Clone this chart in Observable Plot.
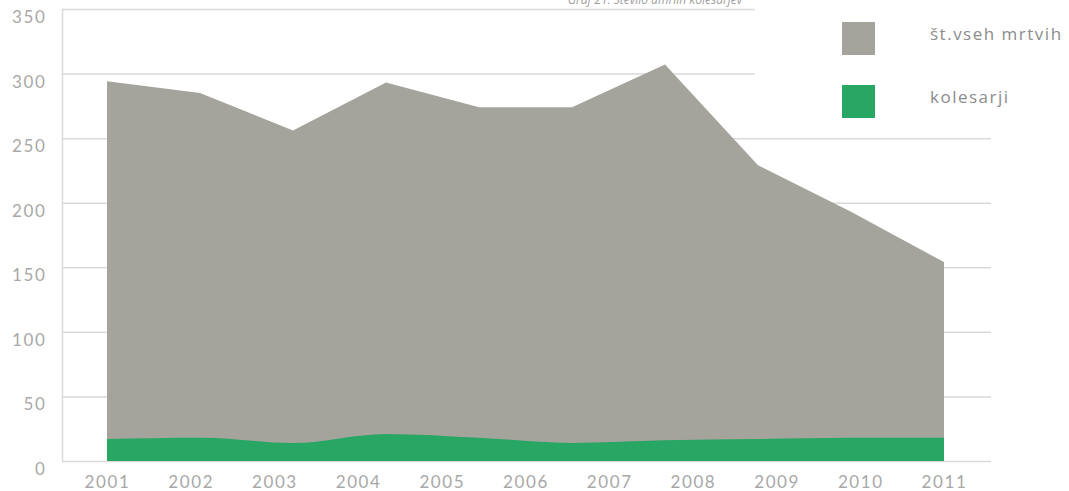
<!DOCTYPE html>
<html>
<head>
<meta charset="utf-8">
<script src="https://cdn.jsdelivr.net/npm/d3@7"></script>
<script src="https://cdn.jsdelivr.net/npm/@observablehq/plot@0.6"></script>
<style>
  html, body { margin: 0; padding: 0; background: #fff; }
  #wrap { position: relative; width: 1069px; height: 491px; overflow: hidden; }
  #title { position: absolute; top: -9px; left: 0; width: 1310px; text-align: center;
           font: italic 12px "Open Sans", sans-serif; color: #a0a0a0; }
  #legend { position: absolute; left: 755px; top: 0; width: 314px; height: 126px; background: #fff; }
  .item { position: absolute; left: 87px; width: 227px; height: 33px; }
  .sw { position: absolute; left: 0; top: 0; width: 33px; height: 33px; }
  .lab { position: absolute; left: 88px; top: 0px; font: 17px "Open Sans", sans-serif; color: #8c8c8c;
         letter-spacing: 1.5px; white-space: nowrap; }
  svg text { letter-spacing: 1.6px; }
</style>
</head>
<body>
<div id="wrap">
  <div id="chart"></div>
  <div id="title">Graf 21: Število umrlih kolesarjev</div>
  <div id="legend"></div>
</div>
<script>
const years = [2001, 2002, 2003, 2004, 2005, 2006, 2007, 2008, 2009, 2010, 2011];
const yTicks = [0, 50, 100, 150, 200, 250, 300, 350];
const total = [294, 285, 256, 293, 274, 274, 307, 229, 193, 154];
const cyclists = [17, 18, 14, 21, 18, 14, 16, 17, 18, 18];
const seriesNames = ["št.vseh mrtvih", "kolesarji"];
const colors = ["#a4a49c", "#27a664"];

// evenly spread the drawn points across the labelled span
const pos = d3.scaleLinear().domain([0, total.length - 1]).range([years[0], years[years.length - 1]]);
const rows = total.map((v, i) => ({x: pos(i), total: v, cyc: cyclists[i]}));

const chart = Plot.plot({
  width: 1069,
  height: 491,
  marginLeft: 62,
  marginRight: 78,
  marginTop: 9,
  marginBottom: 30,
  x: {domain: [years[0], years[years.length - 1]], insetLeft: 45, insetRight: 47},
  y: {domain: [0, 350]},
  style: {fontFamily: "Lato, sans-serif", color: "#a8a8a8", background: "#fff"},
  marks: [
    Plot.ruleY(yTicks, {stroke: "#d9d9d9", strokeWidth: 1.5}),
    Plot.frame({anchor: "left", stroke: "#d9d9d9", strokeWidth: 1.5}),
    Plot.areaY(rows, {x: "x", y: "total", fill: colors[0]}),
    Plot.areaY(rows, {x: "x", y: "cyc", fill: colors[1], curve: "monotone-x"}),
    Plot.axisY(yTicks, {tickSize: 0, tickPadding: 16, dy: 8, fontSize: 17, label: null}),
    Plot.axisX(years, {tickSize: 0, tickPadding: 14, fontSize: 17, tickFormat: d => String(d), label: null})
  ]
});
document.getElementById("chart").appendChild(chart);

const legend = document.getElementById("legend");
seriesNames.forEach((name, i) => {
  const it = document.createElement("div");
  it.className = "item";
  it.style.top = (22 + i * 63) + "px";
  it.innerHTML = `<div class="sw" style="background:${colors[i]}"></div><div class="lab">${name}</div>`;
  legend.appendChild(it);
});
</script>
</body>
</html>
